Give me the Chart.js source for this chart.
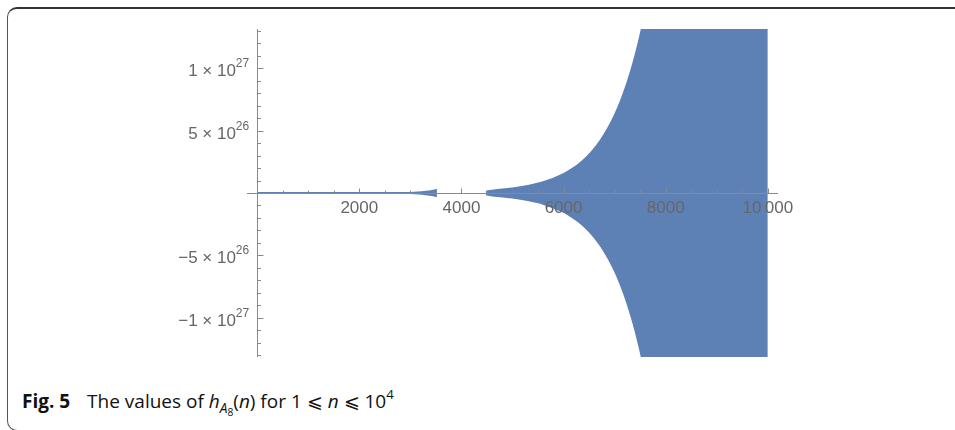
<!DOCTYPE html>
<html>
<head>
<meta charset="utf-8">
<script src="https://cdn.jsdelivr.net/npm/chart.js@4"></script>
<style>
  body { margin: 0; background: #fff; width: 955px; height: 430px; overflow: hidden; position: relative; }
  #frame {
    position: absolute; left: 7px; top: 7px; width: 1000px; height: 421px;
    border-left: 1px solid #555; border-top: 2px solid #333; border-bottom: 1px solid #555;
    border-radius: 10px 0 0 10px;
  }
  #chart { position: absolute; left: 0; top: 0; }
  #caption {
    position: absolute; left: 22px; top: 388px;
    font-family: "Open Sans", sans-serif; font-size: 19px; color: #111; white-space: nowrap;
  }
  #caption b { font-weight: 700; margin-right: 12px; }
  #caption .sub { font-size: 72%; position: relative; top: 5px; }
  #caption .sub2 { font-size: 75%; position: relative; top: 3px; }
  #caption sup { font-size: 70%; line-height: 0; position: relative; top: -2px; }
</style>
</head>
<body>
<div id="frame"></div>
<canvas id="chart" width="955" height="380"></canvas>
<div id="caption"><b>Fig. 5</b> The values of <i>h</i><span class="sub"><i>A</i><span class="sub2">8</span></span>(<i>n</i>) for 1 ⩽ <i>n</i> ⩽ 10<sup>4</sup></div>

<script>
// sample positions n along the plot (null value = gap in the plot)
const nValues = [1, 500, 1000, 1500, 2000, 2500, 3000, 3150, 3300, 3420, 3520,
  4000, 4480, 4700, 5000, 5300, 5600, 6000, 6150, 6300, 6450, 6590, 6725, 6800,
  6900, 7000, 7118, 7250, 7373, 7450, 7530, 7700, 8000, 8500, 9000, 9500, 10000];
// envelope of h(n), in units of 1e26
const upperEnv = [0, 0, 0, 0, 0, 0, 0.01, 0.04, 0.1, 0.17, 0.26,
  null, 0.1, 0.25, 0.37, 0.57, 0.86, 1.52, 1.88, 2.31, 2.85, 3.48, 4.21, 4.68,
  5.39, 6.21, 7.33, 8.83, 10.5, 11.7, 13.1, 16.7, 25.3, 51, 104, 209, 425];
const lowerEnv = [0, 0, 0, 0, 0, 0, -0.01, -0.04, -0.1, -0.17, -0.26,
  null, -0.1, -0.25, -0.37, -0.57, -0.86, -1.52, -1.88, -2.31, -2.85, -3.48, -4.21, -4.68,
  -5.39, -6.21, -7.33, -8.83, -10.5, -11.7, -13.1, -16.7, -25.3, -51, -104, -209, -425];

const xMajor = [2000, 4000, 6000, 8000, 10000];
const xTickLabels = ['2000', '4000', '6000', '8000', '10\u2009000'];
const yMajor = [1e27, 5e26, -5e26, -1e27];
const yMantissa = ['1', '5', '\u22125', '\u22121'];
const yExponent = ['27', '26', '26', '27'];

const fillColor = 'rgb(94, 129, 181)';
const axisColor = '#8a8a8a';
const labelColor = '#666';

function toPoints(vals) {
  return nValues.map((n, i) => ({ x: n, y: vals[i] === null ? null : vals[i] * 1e26 }));
}

// axes through the origin, ticks pointing inward (Mathematica style)
const axesPlugin = {
  id: 'axesPlugin',
  afterDatasetsDraw(chart) {
    const ctx = chart.ctx;
    const xs = chart.scales.x, ys = chart.scales.y;
    const area = chart.chartArea;
    const x0 = Math.round(xs.getPixelForValue(0)) + 0.5;
    const y0 = Math.round(ys.getPixelForValue(0)) + 0.5;
    ctx.save();
    ctx.strokeStyle = axisColor;
    ctx.lineWidth = 1;
    ctx.beginPath();
    ctx.moveTo(area.left, y0); ctx.lineTo(area.right, y0);
    ctx.moveTo(x0, area.top); ctx.lineTo(x0, area.bottom);
    for (let v = 500; v <= 10000; v += 500) {
      const px = Math.round(xs.getPixelForValue(v)) + 0.5;
      const len = v % 2000 === 0 ? 5 : 3;
      ctx.moveTo(px, y0); ctx.lineTo(px, y0 - len);
    }
    for (let k = -13; k <= 13; k++) {
      if (k === 0) continue;
      const py = Math.round(ys.getPixelForValue(k * 1e26)) + 0.5;
      const len = k % 5 === 0 ? 6 : 3.5;
      ctx.moveTo(x0, py); ctx.lineTo(x0 + len, py);
    }
    ctx.stroke();
    ctx.restore();
  },
  afterDraw(chart) {
    const ctx = chart.ctx;
    const ys = chart.scales.y;
    const right = chart.scales.x.getPixelForValue(0) - 8;
    ctx.save();
    ctx.fillStyle = labelColor;
    ctx.textAlign = 'right';
    ctx.textBaseline = 'alphabetic';
    yMajor.forEach((v, i) => {
      const py = ys.getPixelForValue(v);
      ctx.font = '12px "Liberation Sans", Arial, sans-serif';
      const supW = ctx.measureText(yExponent[i]).width;
      ctx.fillText(yExponent[i], right, py - 1);
      ctx.font = '17px "Liberation Sans", Arial, sans-serif';
      ctx.fillText(yMantissa[i] + ' \u00d7 10', right - supW, py + 8);
    });
    ctx.restore();
  }
};

new Chart(document.getElementById('chart'), {
  type: 'line',
  data: {
    datasets: [{
      data: toPoints(upperEnv),
      borderColor: fillColor,
      backgroundColor: fillColor,
      borderWidth: 2,
      pointRadius: 0,
      fill: 'origin',
      spanGaps: false,
      cubicInterpolationMode: 'monotone'
    }, {
      data: toPoints(lowerEnv),
      borderColor: fillColor,
      backgroundColor: fillColor,
      borderWidth: 2,
      pointRadius: 0,
      fill: 'origin',
      spanGaps: false,
      cubicInterpolationMode: 'monotone'
    }]
  },
  options: {
    responsive: false,
    animation: false,
    layout: { padding: { left: 247, right: 177, top: 29, bottom: 23 } },
    plugins: { legend: { display: false }, tooltip: { enabled: false } },
    scales: {
      x: {
        type: 'linear',
        min: -200,
        max: 10200,
        position: { y: 0 },
        grid: { display: false, drawTicks: false },
        border: { display: false },
        afterBuildTicks: (scale) => { scale.ticks = xMajor.map(v => ({ value: v })); },
        ticks: {
          z: 1,
          color: labelColor,
          padding: 5,
          maxRotation: 0,
          autoSkip: false,
          font: { family: '"Liberation Sans", Arial, sans-serif', size: 17 },
          callback: (v, i) => xTickLabels[i]
        }
      },
      y: {
        type: 'linear',
        min: -1.315e27,
        max: 1.315e27,
        position: { x: 0 },
        grid: { display: false, drawTicks: false },
        border: { display: false },
        ticks: { display: false }
      }
    }
  },
  plugins: [axesPlugin]
});
</script>
</body>
</html>
